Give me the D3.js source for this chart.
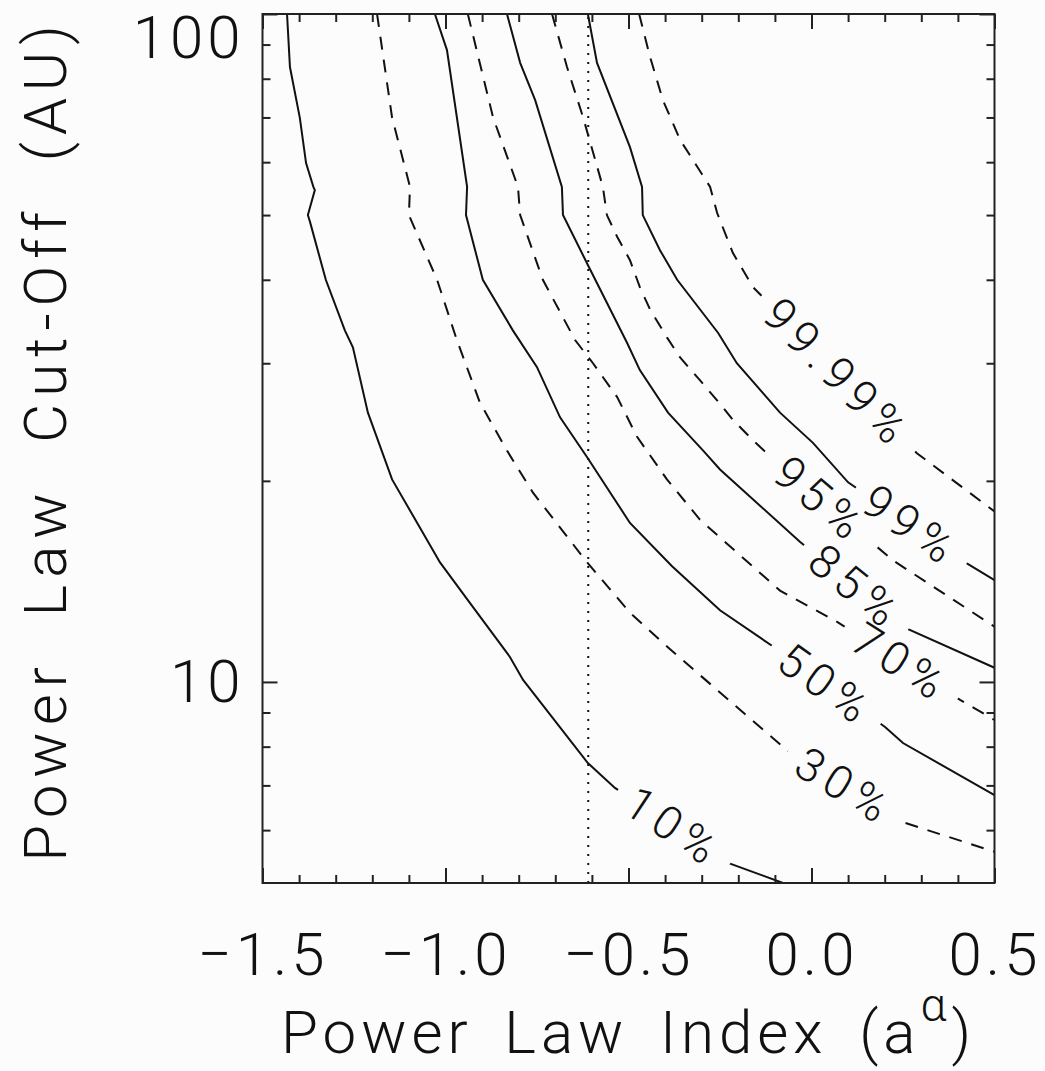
<!DOCTYPE html>
<html>
<head>
<meta charset="utf-8">
<script src="https://cdnjs.cloudflare.com/ajax/libs/d3/7.8.5/d3.min.js"></script>
<style>
    body { margin: 0; background: #fcfcfc; }
    text { font-family: Roboto, "Liberation Sans", sans-serif; font-weight: 300; fill: #111; }
</style>
</head>
<body>
<div id="contourChart"></div>
<script>
// Contour levels, left to right, and their line styles
var levels = ["10%", "30%", "50%", "70%", "85%", "95%", "99%", "99.99%"];
var dashedLevel = [false, true, false, true, false, true, false, true];

// Contour paths: [power law index, cut-off (AU)]
var contour10 = [[-1.433, 100], [-1.425, 83.3], [-1.398, 69.9], [-1.381, 59.8], [-1.361, 55.1], [-1.357, 54.5],
    [-1.376, 50.0], [-1.370, 48.8], [-1.327, 40.0], [-1.275, 33.6], [-1.253, 31.7], [-1.212, 25.3], [-1.146, 20.1],
    [-1.015, 15.1], [-0.941, 13.3], [-0.824, 10.9], [-0.788, 10.07], [-0.611, 7.56], [-0.537, 6.94], [-0.228, 5.36],
    [-0.078, 5.0]];
var contour30 = [[-1.187, 100], [-1.146, 70], [-1.097, 55.1], [-1.100, 50], [-1.023, 40], [-0.969, 32.5],
    [-0.906, 26.2], [-0.832, 22.2], [-0.761, 19.2], [-0.613, 15.1], [-0.496, 12.7], [-0.387, 11.2], [-0.059, 7.83],
    [0.256, 6.15], [0.5, 5.57]];
var contour50 = [[-1.029, 100], [-0.996, 88.3], [-0.941, 55.1], [-0.944, 50], [-0.898, 40], [-0.816, 33.6],
    [-0.750, 29.6], [-0.687, 24.9], [-0.613, 21.7], [-0.496, 17.3], [-0.381, 14.9], [-0.250, 12.8], [-0.105, 11.3],
    [0.201, 8.56], [0.250, 8.10], [0.5, 6.77]];
var contour70 = [[-0.939, 100], [-0.870, 70], [-0.802, 55.1], [-0.796, 50], [-0.734, 40], [-0.646, 32.5],
    [-0.597, 30.0], [-0.531, 26.7], [-0.477, 23.3], [-0.395, 20.1], [-0.305, 17.5], [-0.086, 13.7], [0.070, 12.3],
    [0.406, 9.40], [0.5, 8.77]];
var contour85 = [[-0.832, 100], [-0.796, 84.5], [-0.755, 74.3], [-0.682, 55.1], [-0.679, 50], [-0.611, 42.1],
    [-0.504, 32.2], [-0.469, 29.3], [-0.392, 25.3], [-0.296, 22.2], [-0.250, 20.8], [-0.031, 16.2], [0.264, 12.0],
    [0.5, 10.5]];
var contour95 = [[-0.709, 100], [-0.668, 83.3], [-0.624, 70], [-0.570, 55.1], [-0.559, 50], [-0.531, 46.4],
    [-0.496, 42.8], [-0.469, 39.0], [-0.441, 36.1], [-0.395, 32.8], [-0.359, 30.6], [-0.305, 28.3], [-0.258, 26.4],
    [-0.215, 24.7], [-0.160, 23.0], [-0.094, 21.3], [0.223, 15.2], [0.5, 12.1]];
var contour99 = [[-0.611, 100], [-0.586, 84.5], [-0.496, 63.2], [-0.463, 55.1], [-0.461, 50], [-0.414, 44.3],
    [-0.367, 40], [-0.255, 33.3], [-0.204, 30.0], [-0.086, 25.3], [0.004, 22.8], [0.100, 19.9], [0.411, 15.2],
    [0.5, 14.2]];
var contour9999 = [[-0.471, 100], [-0.441, 86.2], [-0.406, 74.3], [-0.359, 64.8], [-0.277, 55.1], [-0.258, 50.4],
    [-0.215, 43.9], [-0.160, 39.0], [0.288, 22.0], [0.5, 18.0]];
var contours = [contour10, contour30, contour50, contour70, contour85, contour95, contour99, contour9999];

// Where each level label sits on its contour
var labelPositions = [[-0.367, 6.17], [0.105, 7.18], [0.059, 10.24], [0.250, 10.79], [0.127, 13.97],
    [0.031, 18.9], [0.296, 17.9], [0.085, 29.5]];

// Vertical reference index
var referenceIndex = -0.61;

// Axis ticks
var xMajorTicks = [-1.5, -1.0, -0.5, 0.0, 0.5];
var xMinorTicks = [-1.4, -1.3, -1.2, -1.1, -0.9, -0.8, -0.7, -0.6, -0.4, -0.3, -0.2, -0.1, 0.1, 0.2, 0.3, 0.4];
var yMajorTicks = [10, 100];
var yMinorTicks = [6, 7, 8, 9, 20, 30, 40, 50, 60, 70, 80, 90];

// Setting chart parameters
var properties = {
    width: 1045,
    height: 1071,
    left: 262.5,
    right: 994.5,
    top: 14,
    bottom: 883
};

var svg = d3.select("#contourChart")
    .append("svg")
    .attr("width", properties.width)
    .attr("height", properties.height);

var x = d3.scaleLinear().domain([-1.5, 0.5]).range([properties.left, properties.right]);
var y = d3.scaleLog().domain([5, 100]).range([properties.bottom, properties.top]);

var defs = svg.append("defs");
defs.append("clipPath").attr("id", "plotClip")
    .append("rect")
    .attr("x", properties.left).attr("y", properties.top)
    .attr("width", properties.right - properties.left)
    .attr("height", properties.bottom - properties.top);

var line = d3.line()
    .x(function (d) { return x(d[0]); })
    .y(function (d) { return y(d[1]); });

var plot = svg.append("g").attr("clip-path", "url(#plotClip)");

// Dotted reference line
plot.append("line")
    .attr("x1", x(referenceIndex)).attr("x2", x(referenceIndex))
    .attr("y1", y(5)).attr("y2", y(100))
    .attr("stroke", "#111")
    .attr("stroke-width", 2)
    .attr("stroke-dasharray", "2,7");

// Snap a label to the nearest point of its contour, returning the point and the segment angle
function placeOnContour(points, target) {
    var tx = x(target[0]), ty = y(target[1]);
    var best = null;
    for (var i = 0; i < points.length - 1; i++) {
        var ax = x(points[i][0]), ay = y(points[i][1]);
        var bx = x(points[i + 1][0]), by = y(points[i + 1][1]);
        var dx = bx - ax, dy = by - ay;
        var t = ((tx - ax) * dx + (ty - ay) * dy) / (dx * dx + dy * dy);
        t = Math.max(0, Math.min(1, t));
        var px = ax + t * dx, py = ay + t * dy;
        var dist = (px - tx) * (px - tx) + (py - ty) * (py - ty);
        if (best === null || dist < best.dist) {
            best = { x: px, y: py, angle: Math.atan2(dy, dx) * 180 / Math.PI, dist: dist };
        }
    }
    return best;
}

var labelLayer = svg.append("g");

contours.forEach(function (points, i) {
    var spot = placeOnContour(points, labelPositions[i]);

    var label = labelLayer.append("text")
        .attr("transform", "translate(" + spot.x + "," + spot.y + ") rotate(" + spot.angle + ")")
        .attr("text-anchor", "middle")
        .attr("dominant-baseline", "central")
        .style("font-size", "46px")
        .style("letter-spacing", "7px")
        .text(levels[i]);
    var labelLength = label.node().getComputedTextLength();

    // Mask that breaks this contour where its label sits
    var mask = defs.append("mask")
        .attr("id", "gap" + i)
        .attr("maskUnits", "userSpaceOnUse")
        .attr("x", 0).attr("y", 0)
        .attr("width", properties.width).attr("height", properties.height);
    mask.append("rect")
        .attr("width", properties.width).attr("height", properties.height)
        .attr("fill", "white");
    mask.append("rect")
        .attr("x", -labelLength / 2 - 14).attr("y", -22)
        .attr("width", labelLength + 28).attr("height", 44)
        .attr("transform", "translate(" + spot.x + "," + spot.y + ") rotate(" + spot.angle + ")")
        .attr("fill", "black");

    plot.append("g").attr("mask", "url(#gap" + i + ")")
        .append("path")
        .datum(points)
        .attr("d", line)
        .attr("fill", "none")
        .attr("stroke", "#111")
        .attr("stroke-width", 2)
        .attr("stroke-dasharray", dashedLevel[i] ? "13,10" : null);
});

// Axes with inward ticks on all four sides
function styleAxis(g) {
    g.select(".domain").remove();
    g.selectAll(".tick line").attr("stroke", "#222").attr("stroke-width", 2);
    g.selectAll(".tick text")
        .attr("fill", "#111")
        .style("font-family", "Roboto, 'Liberation Sans', sans-serif")
        .style("font-weight", 300)
        .style("font-size", "60px")
        .style("letter-spacing", "4px");
}

var minus = function (d) { return d3.format(".1f")(d).replace("-", "\u2212"); };

svg.append("g").attr("transform", "translate(0," + properties.bottom + ")")
    .call(d3.axisBottom(x).tickValues(xMajorTicks).tickSize(-15).tickPadding(49).tickFormat(minus))
    .call(styleAxis);
svg.append("g").attr("transform", "translate(0," + properties.bottom + ")")
    .call(d3.axisBottom(x).tickValues(xMinorTicks).tickSize(-8).tickFormat(""))
    .call(styleAxis);
svg.append("g").attr("transform", "translate(0," + properties.top + ")")
    .call(d3.axisTop(x).tickValues(xMajorTicks).tickSize(-15).tickFormat(""))
    .call(styleAxis);
svg.append("g").attr("transform", "translate(0," + properties.top + ")")
    .call(d3.axisTop(x).tickValues(xMinorTicks).tickSize(-8).tickFormat(""))
    .call(styleAxis);

var yAxisLeft = svg.append("g").attr("transform", "translate(" + properties.left + ",0)")
    .call(d3.axisLeft(y).tickValues(yMajorTicks).tickSize(-15).tickPadding(18).tickFormat(d3.format("d")))
    .call(styleAxis);
// keep the top label inside the page, below the corner
yAxisLeft.selectAll(".tick text").filter(function (d) { return d === 100; }).attr("dy", "0.73em");

svg.append("g").attr("transform", "translate(" + properties.left + ",0)")
    .call(d3.axisLeft(y).tickValues(yMinorTicks).tickSize(-8).tickFormat(""))
    .call(styleAxis);
svg.append("g").attr("transform", "translate(" + properties.right + ",0)")
    .call(d3.axisRight(y).tickValues(yMajorTicks).tickSize(-15).tickFormat(""))
    .call(styleAxis);
svg.append("g").attr("transform", "translate(" + properties.right + ",0)")
    .call(d3.axisRight(y).tickValues(yMinorTicks).tickSize(-8).tickFormat(""))
    .call(styleAxis);

// Plot frame
svg.append("rect")
    .attr("x", properties.left).attr("y", properties.top)
    .attr("width", properties.right - properties.left)
    .attr("height", properties.bottom - properties.top)
    .attr("fill", "none")
    .attr("stroke", "#222")
    .attr("stroke-width", 2);

// Axis titles
var xTitle = svg.append("text")
    .attr("x", (properties.left + properties.right) / 2)
    .attr("y", 1053)
    .attr("text-anchor", "middle")
    .style("font-size", "60px")
    .style("letter-spacing", "5px")
    .style("word-spacing", "12px");
xTitle.append("tspan").text("Power Law Index (a");
xTitle.append("tspan").attr("dy", -32).style("font-size", "46px").text("\u03b1");
xTitle.append("tspan").attr("dy", 32).text(")");

svg.append("text")
    .attr("transform", "translate(66,440) rotate(-90)")
    .attr("text-anchor", "middle")
    .style("font-size", "60px")
    .style("letter-spacing", "7px")
    .style("word-spacing", "22px")
    .text("Power Law Cut-Off (AU)");
</script>
</body>
</html>
